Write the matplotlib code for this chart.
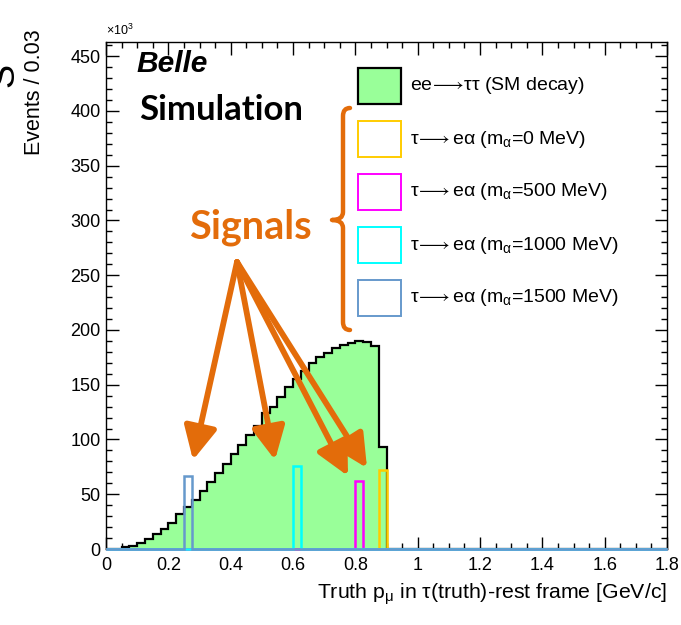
import numpy as np
import matplotlib
matplotlib.use('Agg')
import matplotlib.pyplot as plt
from matplotlib.patches import Rectangle
from matplotlib.path import Path
from matplotlib.patches import PathPatch
from matplotlib.ticker import MultipleLocator

plt.rcParams['font.family'] = ['Liberation Sans', 'DejaVu Sans']
plt.rcParams['mathtext.fontset'] = 'custom'
plt.rcParams['mathtext.rm'] = 'Liberation Sans'
plt.rcParams['mathtext.it'] = 'Liberation Sans:italic'
plt.rcParams['mathtext.bf'] = 'Liberation Sans:bold'
plt.rcParams['mathtext.fallback'] = 'stixsans'

# ---------------- data ----------------
bin_width = 0.025
x_range = (0.0, 1.8)
# SM ee->tautau, events x10^3 per bin, bins starting at 0
sm_counts = [0.0, 0.3, 1.5, 2.7, 5.8, 9.4, 13.4, 18.3, 23.4, 32.0, 38.0, 44.7,
             53.3, 60.9, 69.0, 78.0, 87.0, 95.0, 104.0, 112.0, 124.0, 130.0,
             139.0, 148.0, 155.0, 163.0, 170.0, 175.0, 179.0, 184.0, 186.0,
             188.0, 190.0, 189.0, 185.0, 93.0]
sm_label = 'ee$\\!\\longrightarrow\\!$ττ (SM decay)'
signal_labels = ['τ$\\!\\longrightarrow$eα (m$_{\\mathrm{α}}$=0 MeV)',
                 'τ$\\!\\longrightarrow$eα (m$_{\\mathrm{α}}$=500 MeV)',
                 'τ$\\!\\longrightarrow$eα (m$_{\\mathrm{α}}$=1000 MeV)',
                 'τ$\\!\\longrightarrow$eα (m$_{\\mathrm{α}}$=1500 MeV)']
signal_bin_low = [0.875, 0.800, 0.600, 0.250]
signal_heights = [72.0, 62.0, 76.0, 67.0]
signal_colors = ['#FFCC00', '#FF00FF', '#00FFFF', '#6699CC']
x_tick_values = [0, 0.2, 0.4, 0.6, 0.8, 1.0, 1.2, 1.4, 1.6, 1.8]
x_tick_labels = ['0', '0.2', '0.4', '0.6', '0.8', '1', '1.2', '1.4', '1.6', '1.8']
y_tick_values = [0, 50, 100, 150, 200, 250, 300, 350, 400, 450]
y_tick_labels = ['0', '50', '100', '150', '200', '250', '300', '350', '400', '450']
y_max = 463

sm_fill = '#99FF99'
orange = '#E36C0A'

# ---------------- figure ----------------
W, H = 681, 625
fig = plt.figure(figsize=(W / 100, H / 100), dpi=100)
ax = fig.add_axes([106 / W, 1 - 549 / H, (667 - 106) / W, (549 - 42) / H])

n_bins = int(round((x_range[1] - x_range[0]) / bin_width))
edges = np.linspace(x_range[0], x_range[1], n_bins + 1)
sm_full = np.zeros(n_bins)
sm_full[:len(sm_counts)] = sm_counts

ax.stairs(sm_full, edges, fill=True, color=sm_fill, zorder=2)
ax.stairs(sm_full, edges, color='black', lw=1.6, zorder=3)

for lo, h, c in zip(signal_bin_low, signal_heights, signal_colors):
    vals = np.zeros(n_bins)
    idx = int(round((lo - x_range[0]) / bin_width))
    vals[idx] = h
    ax.stairs(vals, edges, color=c, lw=1.8, zorder=4, clip_on=False)

ax.set_xlim(*x_range)
ax.set_ylim(0, y_max)
ax.set_xticks(x_tick_values)
ax.set_xticklabels(x_tick_labels)
ax.set_yticks(y_tick_values)
ax.set_yticklabels(y_tick_labels)
ax.xaxis.set_minor_locator(MultipleLocator(0.05))
ax.yaxis.set_minor_locator(MultipleLocator(10))
ax.tick_params(which='both', direction='in', top=True, right=True,
               labelsize=13, width=1.0)
ax.tick_params(which='major', length=9)
ax.tick_params(which='minor', length=4.5)
ax.tick_params(axis='x', pad=6)
ax.tick_params(axis='y', pad=4)
for s in ax.spines.values():
    s.set_linewidth(1.0)

ax.text(0.0, 1.008, '×10$^{3}$', transform=ax.transAxes, fontsize=9,
        ha='left', va='bottom')

# axis titles
fig.text(34 / W, 1 - 92 / H, 'Events / 0.03', rotation=90, fontsize=15.5,
         ha='center', va='center')
fig.text(667 / W, 1 - 594 / H,
         'Truth p$_{\\mathrm{μ}}$ in τ(truth)-rest frame [GeV/c]',
         fontsize=15.3, ha='right', va='center')
fig.text(4 / W, 1 - 75 / H, 'S', rotation=90, fontsize=26, ha='center',
         va='center')

# ---------------- overlay (pixel coordinates) ----------------
ov = fig.add_axes([0, 0, 1, 1], facecolor='none')
ov.set_xlim(0, W)
ov.set_ylim(H, 0)
ov.axis('off')

ov.text(136, 72, 'Belle', fontsize=21.5, fontweight='bold', fontstyle='italic',
        ha='left', va='baseline')
ov.text(139, 120, 'Simulation', family=['Lato', 'DejaVu Sans'], fontsize=25,
        fontweight='bold', ha='left', va='baseline')

# legend
box_x, box_w, box_h = 358, 43, 36
row_top0, row_step = 68, 53
ov.add_patch(Rectangle((box_x, row_top0), box_w, box_h, facecolor=sm_fill,
                       edgecolor='black', lw=1.6))
ov.text(410, row_top0 + box_h / 2, sm_label, fontsize=14, ha='left',
        va='center')
for i, (lab, c) in enumerate(zip(signal_labels, signal_colors)):
    top = row_top0 + (i + 1) * row_step
    ov.add_patch(Rectangle((box_x, top), box_w, box_h, facecolor='white',
                           edgecolor=c, lw=1.4))
    ov.text(410, top + box_h / 2, lab, fontsize=14, ha='left', va='center')

# bracket
verts = [(350, 108), (343, 108), (343, 116),
         (343, 212), (343, 220), (332, 220),
         (343, 220), (343, 228),
         (343, 322), (343, 330), (350, 330)]
codes = [Path.MOVETO, Path.CURVE3, Path.CURVE3,
         Path.LINETO, Path.CURVE3, Path.CURVE3,
         Path.CURVE3, Path.CURVE3,
         Path.LINETO, Path.CURVE3, Path.CURVE3]
ov.add_patch(PathPatch(Path(verts, codes), facecolor='none', edgecolor=orange,
                       lw=3.2, capstyle='round', joinstyle='round'))

# Signals annotation
ov.text(189, 238, 'Signals', family=['Lato', 'DejaVu Sans'], fontsize=28.5,
        fontweight='bold', color=orange, ha='left', va='baseline')
start = (237, 262)
tips = [(193, 460), (275, 460), (348, 476), (367, 468)]
for tip in tips:
    ov.annotate('', xy=tip, xytext=start,
                arrowprops=dict(arrowstyle='-|>,head_length=1.0,head_width=0.5',
                                lw=4.2, color=orange, mutation_scale=20,
                                shrinkA=0, shrinkB=0))

fig.savefig('out.png', dpi=100)
